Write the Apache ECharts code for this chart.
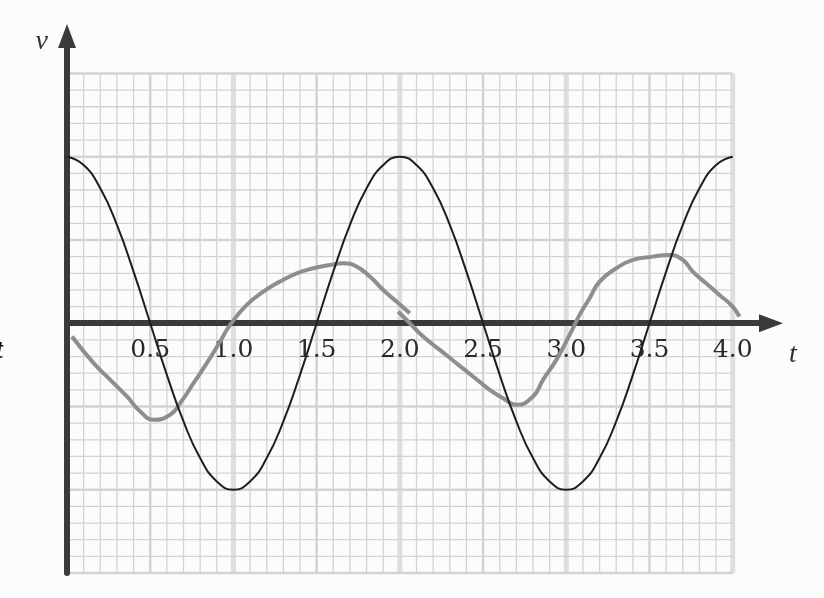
<!DOCTYPE html>
<html lang="en">
<head>
    <meta charset="UTF-8">
    <title>v - t</title>
    <style>
        html, body { margin: 0; padding: 0; background: #fcfcfc; }
        #container { width: 824px; height: 598px; }
    </style>
</head>
<body>
<div id="container"></div>
<script src="https://cdn.jsdelivr.net/npm/echarts@6/dist/echarts.min.js"></script>
<script type="text/javascript">
    // tick labels on the t axis
    var tickLabels = ['0.5', '1.0', '1.5', '2.0', '2.5', '3.0', '3.5', '4.0'];

    // black curve, read every 0.1 s
    var blackT = [0, 0.1, 0.2, 0.3, 0.4, 0.5, 0.6, 0.7, 0.8, 0.9,
                  1.0, 1.1, 1.2, 1.3, 1.4, 1.5, 1.6, 1.7, 1.8, 1.9,
                  2.0, 2.1, 2.2, 2.3, 2.4, 2.5, 2.6, 2.7, 2.8, 2.9,
                  3.0, 3.1, 3.2, 3.3, 3.4, 3.5, 3.6, 3.7, 3.8, 3.9, 4.0];
    var blackV = [1.00, 0.95, 0.81, 0.59, 0.31, 0.00, -0.31, -0.59, -0.81, -0.95,
                  -1.00, -0.95, -0.81, -0.59, -0.31, 0.00, 0.31, 0.59, 0.81, 0.95,
                  1.00, 0.95, 0.81, 0.59, 0.31, 0.00, -0.31, -0.59, -0.81, -0.95,
                  -1.00, -0.95, -0.81, -0.59, -0.31, 0.00, 0.31, 0.59, 0.81, 0.95, 1.00];

    // grey hand drawn curve, first stroke
    var grey1T = [0.03, 0.16, 0.26, 0.36, 0.44, 0.52, 0.62, 0.68, 0.76, 0.84, 0.92, 0.98,
                  1.08, 1.18, 1.28, 1.38, 1.48, 1.58, 1.66, 1.74, 1.82, 1.90, 1.98, 2.06];
    var grey1V = [-0.08, -0.24, -0.34, -0.44, -0.53, -0.58, -0.55, -0.48, -0.36, -0.24, -0.11, -0.01,
                  0.11, 0.19, 0.25, 0.30, 0.33, 0.35, 0.36, 0.34, 0.28, 0.20, 0.13, 0.06];

    // grey hand drawn curve, second stroke
    var grey2T = [1.99, 2.06, 2.14, 2.24, 2.34, 2.44, 2.54, 2.62, 2.70, 2.80, 2.86, 2.94,
                  3.02, 3.08, 3.14, 3.20, 3.30, 3.40, 3.52, 3.62, 3.70, 3.76, 3.84, 3.92, 4.00, 4.04];
    var grey2V = [0.07, 0.00, -0.08, -0.16, -0.24, -0.32, -0.40, -0.45, -0.49, -0.44, -0.34, -0.22,
                  -0.07, 0.05, 0.15, 0.25, 0.33, 0.38, 0.40, 0.41, 0.38, 0.31, 0.24, 0.17, 0.10, 0.04];

    function pairs(xs, ys) {
        var out = [];
        for (var i = 0; i < xs.length; i++) out.push([xs[i], ys[i]]);
        return out;
    }

    // graph paper: one line every 0.1 in both directions
    var paper = [];
    for (var i = 0; i <= 40; i++) {
        paper.push([i / 10, -1.5, i / 10, 1.5, i % 10 === 0 ? 2 : (i % 5 === 0 ? 1 : 0)]);
    }
    for (var j = -15; j <= 15; j++) {
        paper.push([0, j / 10, 4, j / 10, j % 5 === 0 ? 1 : 0]);
    }

    var myChart = echarts.init(document.getElementById('container'));
    var serif = '"Liberation Serif", "DejaVu Serif", serif';

    option = {
        backgroundColor: '#fcfcfc',
        animation: false,
        grid: { left: 67, right: 53, top: 36, bottom: 25 },
        xAxis: {
            type: 'value', min: 0, max: 4.23, interval: 0.5, z: 3,
            // axis sits on v = 0, moved up from the bottom of the grid
            offset: -249.8,
            name: 't', nameLocation: 'end', nameGap: 18,
            nameTextStyle: { fontFamily: serif, fontStyle: 'italic', fontSize: 28, color: '#333',
                align: 'left', verticalAlign: 'top', padding: [17, 0, 0, 0] },
            axisLine: { onZero: false, symbol: ['none', 'triangle'], symbolSize: [18, 24],
                lineStyle: { color: '#3a3a3a', width: 6 } },
            axisTick: { show: false },
            splitLine: { show: false },
            axisLabel: {
                margin: 15, fontFamily: '"DejaVu Serif", serif', fontSize: 25, color: '#2a2a2a',
                formatter: function (v) {
                    var s = v.toFixed(1);
                    return (tickLabels.indexOf(s) >= 0 && Math.abs(v - parseFloat(s)) < 1e-6) ? s : '';
                }
            }
        },
        yAxis: {
            type: 'value', min: -1.5, max: 1.725, z: 3,
            name: 'v', nameLocation: 'end', nameGap: -6,
            nameTextStyle: { fontFamily: serif, fontStyle: 'italic', fontSize: 28, color: '#333',
                align: 'right', verticalAlign: 'middle', padding: [0, 19, 0, 0] },
            axisLine: { onZero: false, symbol: ['none', 'triangle'], symbolSize: [18, 24],
                lineStyle: { color: '#3a3a3a', width: 6 } },
            axisTick: { show: false },
            axisLabel: { show: false },
            splitLine: { show: false }
        },
        graphic: [{
            type: 'text', x: -5, y: 337,
            style: { text: 't', font: 'italic bold 28px "Liberation Serif"', fill: '#111' }
        }],
        series: [{
            type: 'custom',
            name: 'paper',
            z: 1,
            silent: true,
            encode: { x: [0, 2], y: [1, 3] },
            data: paper,
            renderItem: function (params, api) {
                var a = api.coord([api.value(0), api.value(1)]);
                var b = api.coord([api.value(2), api.value(3)]);
                var k = api.value(4);
                return {
                    type: 'line',
                    shape: { x1: a[0], y1: a[1], x2: b[0], y2: b[1] },
                    style: {
                        stroke: k === 2 ? '#dedede' : '#d3d3d3',
                        lineWidth: k === 2 ? 5 : (k === 1 ? 2.5 : 1.3)
                    }
                };
            }
        }, {
            type: 'line',
            name: 'black',
            z: 5,
            data: pairs(blackT, blackV),
            smooth: true,
            showSymbol: false,
            lineStyle: { color: '#1e1e1e', width: 2 }
        }, {
            type: 'line',
            name: 'grey1',
            z: 4,
            data: pairs(grey1T, grey1V),
            smooth: true,
            showSymbol: false,
            lineStyle: { color: '#8e8e8e', width: 4 }
        }, {
            type: 'line',
            name: 'grey2',
            z: 4,
            data: pairs(grey2T, grey2V),
            smooth: true,
            showSymbol: false,
            lineStyle: { color: '#8e8e8e', width: 4 }
        }]
    };

    if (option && typeof option === "object") {
        myChart.setOption(option, true);
    }
</script>
</body>
</html>
